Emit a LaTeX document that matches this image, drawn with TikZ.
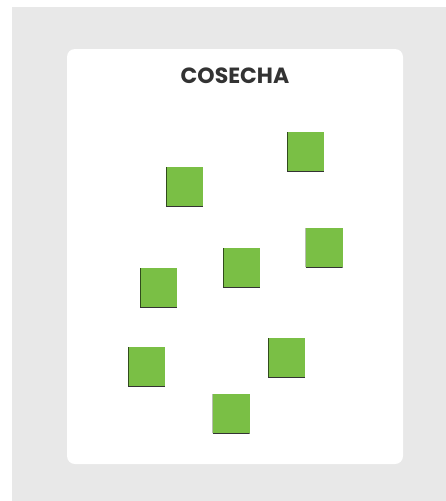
\documentclass[tikz,border=0pt]{standalone}
\usepackage{fontspec}
\setmainfont{Poppins}
\usetikzlibrary{positioning}
\definecolor{leafgreen}{HTML}{7ABF45}
\definecolor{bggray}{HTML}{E8E8E8}
\definecolor{titlegray}{HTML}{333333}

\begin{document}
\begin{tikzpicture}[x=1pt,y=-1pt,
 card/.style={fill=white,rounded corners=8pt,draw=none},
 leaf/.style={fill=leafgreen,minimum width=37pt,minimum height=39pt,inner sep=0pt,
  draw=none,path picture={
  \draw[leafgreen!40!black,line width=1.2pt]
  (path picture bounding box.north west)--(path picture bounding box.south west);
  \draw[black!80,line width=1pt]
  (path picture bounding box.south west)--(path picture bounding box.south east);}},
 title/.style={font=\fontsize{22}{26}\selectfont\bfseries,text=titlegray}]
\useasboundingbox (0,0) rectangle (446,501);
\fill[bggray] (12,7) rectangle (446,501);
\fill[card] (67,49) rectangle (403,464);
\node[title] (head) at (235,76) {COSECHA};
% squares
\node[leaf] (s1) at (184.5,186.5) {};
\node[leaf] (s2) at (305.5,151.5) {};
\node[leaf] (s3) at (324,247.5) {};
\node[leaf] (s4) at (241.5,267.5) {};
\node[leaf] (s5) at (158.5,287.5) {};
\node[leaf] (s6) at (146.5,366.5) {};
\node[leaf] (s7) at (286.5,357.5) {};
\node[leaf] (s8) at (231,413.5) {};
\end{tikzpicture}
\end{document}
